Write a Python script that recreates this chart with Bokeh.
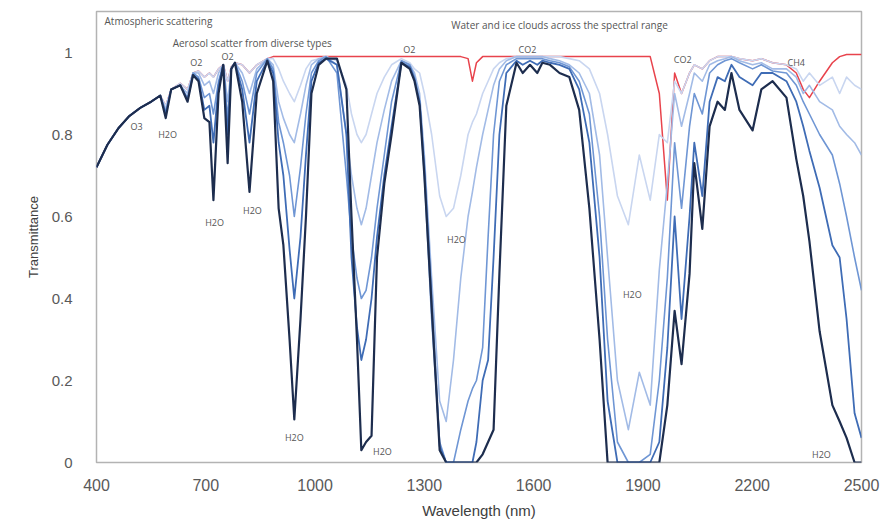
from bokeh.plotting import figure
from bokeh.models import FixedTicker, ColumnDataSource, Range1d
from bokeh.core.properties import value
from bokeh.embed import file_html
from bokeh.resources import INLINE

# ---------------- data ----------------
wavelength = [
    400, 430, 460, 490, 520, 550, 575, 590, 605, 630,
    650, 665, 680, 696, 710, 721, 735, 748, 760, 770,
    780, 800, 820, 840, 869, 885, 900, 913, 930, 943,
    960, 975, 990, 1010, 1030, 1060, 1086, 1100, 1115, 1127,
    1140, 1155, 1170, 1190, 1210, 1237, 1260, 1273, 1287, 1300,
    1320, 1342, 1360, 1380, 1400, 1420, 1432, 1443, 1460, 1475,
    1490, 1506, 1525, 1553, 1570, 1590, 1610, 1624, 1645, 1671,
    1698, 1725, 1753, 1781, 1803, 1830, 1860, 1890, 1920, 1945,
    1967, 1987, 2006, 2028, 2041, 2063, 2083, 2105, 2125, 2143,
    2165, 2201, 2225, 2256, 2294, 2321, 2340, 2357, 2385, 2420,
    2440, 2459, 2481, 2500,
]

clear_sky = [
    0.72, 0.775, 0.815, 0.845, 0.865, 0.88, 0.895, 0.87, 0.91, 0.925,
    0.91, 0.95, 0.955, 0.94, 0.95, 0.94, 0.96, 0.97, 0.93, 0.965,
    0.975, 0.97, 0.95, 0.97, 0.985, 0.99, 0.99, 0.99, 0.99, 0.99,
    0.99, 0.99, 0.99, 0.99, 0.99, 0.99, 0.99, 0.99, 0.99, 0.99,
    0.99, 0.99, 0.99, 0.99, 0.99, 0.99, 0.99, 0.99, 0.99, 0.99,
    0.99, 0.99, 0.99, 0.99, 0.99, 0.985, 0.93, 0.975, 0.99, 0.99,
    0.99, 0.99, 0.99, 0.99, 0.99, 0.99, 0.99, 0.99, 0.99, 0.99,
    0.99, 0.99, 0.99, 0.99, 0.99, 0.99, 0.99, 0.99, 0.99, 0.90,
    0.64, 0.95, 0.90, 0.95, 0.97, 0.96, 0.98, 0.99, 0.99, 0.99,
    0.985, 0.98, 0.985, 0.975, 0.97, 0.95, 0.91, 0.89, 0.93, 0.975,
    0.99, 0.995, 0.995, 0.995,
]

cloud_1 = [
    0.72, 0.775, 0.815, 0.845, 0.865, 0.88, 0.895, 0.84, 0.91, 0.92,
    0.88, 0.945, 0.93, 0.84, 0.83, 0.64, 0.90, 0.97, 0.73, 0.96,
    0.975, 0.88, 0.66, 0.90, 0.98, 0.93, 0.62, 0.53, 0.30, 0.105,
    0.35, 0.60, 0.90, 0.97, 0.985, 0.985, 0.91, 0.60, 0.30, 0.03,
    0.05, 0.065, 0.50, 0.68, 0.80, 0.975, 0.96, 0.93, 0.87, 0.70,
    0.38, 0.03, 0.0, 0.0, 0.0, 0.0, 0.0, 0.0, 0.02, 0.05,
    0.08, 0.46, 0.87, 0.975, 0.95, 0.97, 0.95, 0.975, 0.97, 0.95,
    0.94, 0.86, 0.62, 0.30, 0.0, 0.0, 0.0, 0.0, 0.0, 0.0,
    0.14, 0.37, 0.24, 0.46, 0.73, 0.57, 0.82, 0.88, 0.86, 0.95,
    0.86, 0.81, 0.91, 0.93, 0.89, 0.74, 0.65, 0.54, 0.32, 0.14,
    0.10, 0.06, 0.0, 0.0,
]

cloud_2 = [
    0.72, 0.775, 0.815, 0.845, 0.865, 0.88, 0.895, 0.85, 0.91, 0.92,
    0.885, 0.945, 0.935, 0.86, 0.87, 0.78, 0.92, 0.97, 0.80, 0.96,
    0.975, 0.91, 0.78, 0.93, 0.98, 0.95, 0.78, 0.70, 0.52, 0.40,
    0.55, 0.75, 0.93, 0.975, 0.985, 0.97, 0.80, 0.50, 0.33, 0.25,
    0.30, 0.40, 0.55, 0.70, 0.82, 0.975, 0.965, 0.935, 0.88, 0.72,
    0.40, 0.04, 0.0, 0.0, 0.0, 0.0, 0.0, 0.05, 0.20, 0.25,
    0.50, 0.80, 0.95, 0.98, 0.97, 0.98, 0.97, 0.98, 0.975, 0.97,
    0.96, 0.91, 0.78, 0.50, 0.15, 0.0, 0.0, 0.0, 0.0, 0.05,
    0.28, 0.60, 0.35, 0.60, 0.78, 0.65, 0.88, 0.94, 0.93, 0.97,
    0.94, 0.92, 0.95, 0.95, 0.93, 0.88, 0.82, 0.76, 0.67, 0.53,
    0.50, 0.35, 0.12, 0.06,
]

cloud_3 = [
    0.72, 0.775, 0.815, 0.845, 0.865, 0.88, 0.895, 0.855, 0.91, 0.92,
    0.89, 0.95, 0.94, 0.89, 0.90, 0.85, 0.93, 0.97, 0.84, 0.96,
    0.975, 0.93, 0.85, 0.95, 0.985, 0.96, 0.83, 0.78, 0.70, 0.60,
    0.72, 0.85, 0.95, 0.98, 0.99, 0.95, 0.70, 0.55, 0.45, 0.40,
    0.42, 0.50, 0.62, 0.75, 0.88, 0.98, 0.97, 0.94, 0.88, 0.70,
    0.35, 0.05, 0.0, 0.0, 0.08, 0.15, 0.18, 0.20, 0.28, 0.55,
    0.80, 0.93, 0.97, 0.985, 0.985, 0.985, 0.985, 0.985, 0.98, 0.975,
    0.965, 0.93, 0.85, 0.60, 0.30, 0.05, 0.0, 0.0, 0.02, 0.20,
    0.45, 0.78, 0.62, 0.82, 0.90, 0.85, 0.95, 0.97, 0.98, 0.985,
    0.975, 0.96, 0.97, 0.955, 0.95, 0.92, 0.88, 0.85, 0.80, 0.75,
    0.68, 0.60, 0.50, 0.42,
]

cloud_4 = [
    0.72, 0.775, 0.815, 0.845, 0.865, 0.88, 0.895, 0.86, 0.91, 0.92,
    0.90, 0.95, 0.95, 0.92, 0.93, 0.90, 0.95, 0.97, 0.88, 0.96,
    0.975, 0.95, 0.90, 0.96, 0.985, 0.97, 0.88, 0.84, 0.80, 0.78,
    0.85, 0.92, 0.97, 0.985, 0.99, 0.97, 0.80, 0.70, 0.62, 0.58,
    0.62, 0.70, 0.78, 0.86, 0.93, 0.98, 0.97, 0.95, 0.90, 0.75,
    0.45, 0.15, 0.10, 0.25, 0.45, 0.60, 0.66, 0.72, 0.80, 0.86,
    0.92, 0.96, 0.98, 0.99, 0.99, 0.99, 0.99, 0.99, 0.985, 0.98,
    0.97, 0.95, 0.90, 0.75, 0.50, 0.20, 0.08, 0.22, 0.14, 0.47,
    0.68, 0.90, 0.82, 0.90, 0.95, 0.93, 0.97, 0.98, 0.985, 0.99,
    0.98, 0.97, 0.975, 0.96, 0.96, 0.94, 0.90, 0.92, 0.88, 0.86,
    0.82, 0.80, 0.78, 0.75,
]

cloud_5 = [
    0.72, 0.775, 0.815, 0.845, 0.865, 0.88, 0.895, 0.87, 0.91, 0.925,
    0.91, 0.95, 0.955, 0.94, 0.95, 0.94, 0.96, 0.97, 0.93, 0.965,
    0.975, 0.97, 0.95, 0.97, 0.985, 0.985, 0.96, 0.93, 0.90, 0.88,
    0.92, 0.96, 0.98, 0.985, 0.99, 0.98, 0.92, 0.85, 0.80, 0.78,
    0.80, 0.85, 0.90, 0.94, 0.97, 0.985, 0.975, 0.96, 0.95, 0.90,
    0.80, 0.65, 0.60, 0.62, 0.70, 0.80, 0.83, 0.85, 0.90, 0.93,
    0.96, 0.975, 0.985, 0.99, 0.99, 0.99, 0.99, 0.99, 0.99, 0.99,
    0.985, 0.98, 0.96, 0.90, 0.80, 0.65, 0.58, 0.75, 0.64, 0.80,
    0.78, 0.93, 0.90, 0.95, 0.97, 0.96, 0.98, 0.99, 0.99, 0.99,
    0.985, 0.98, 0.985, 0.975, 0.97, 0.96, 0.93, 0.95, 0.92, 0.94,
    0.90, 0.94, 0.92, 0.91,
]

x_ticks = [400, 700, 1000, 1300, 1600, 1900, 2200, 2500]
y_ticks = [0, 0.2, 0.4, 0.6, 0.8, 1.0]

label_text = ["O3", "H2O", "O2", "O2", "H2O", "H2O", "H2O", "H2O", "O2",
              "H2O", "CO2", "H2O", "CO2", "CH4", "H2O"]
label_wl = [510, 595, 674, 760, 724, 828, 943, 1185, 1259,
            1388, 1583, 1871, 2009, 2321, 2390]
label_t = [0.82, 0.80, 0.976, 0.99, 0.585, 0.615, 0.06, 0.027, 1.007,
           0.544, 1.007, 0.41, 0.983, 0.976, 0.02]

header_text = ["Atmospheric scattering", "Aerosol scatter from diverse types",
               "Water and ice clouds across the spectral range"]
header_wl = [422, 609, 1374]
header_t = [1.076, 1.022, 1.068]

series = [
    ("clear", clear_sky, "#e8434c", 1.5),
    ("c5", cloud_5, "#c9d6f0", 1.6),
    ("c4", cloud_4, "#a2bbe6", 1.6),
    ("c3", cloud_3, "#6f96d4", 1.6),
    ("c2", cloud_2, "#3f6cb5", 1.8),
    ("c1", cloud_1, "#1d2d4e", 2.2),
]

for _, ys, _, _ in series:
    assert len(ys) == len(wavelength), (len(ys), len(wavelength))

# ---------------- figure ----------------
p = figure(width=880, height=525, x_range=Range1d(400, 2500), y_range=Range1d(0, 1.1),
           output_backend="svg", toolbar_location=None,
           min_border_left=96, min_border_right=19, min_border_top=11, min_border_bottom=63)
p.background_fill_color = "white"
p.border_fill_color = "white"
p.xgrid.visible = False
p.ygrid.visible = False
p.outline_line_color = "#b3b3b3"
p.outline_line_width = 1.5

for name, ys, color, w in series:
    p.line(wavelength, ys, line_color=color, line_width=w, line_join="round")

lab_src = ColumnDataSource(dict(x=label_wl, y=label_t, t=label_text))
p.text(x="x", y="y", text="t", source=lab_src, text_font=value("Open Sans"),
       text_font_size="9px", text_color="#555555", text_align="center",
       text_baseline="middle")
head_src = ColumnDataSource(dict(x=header_wl, y=header_t, t=header_text))
p.text(x="x", y="y", text="t", source=head_src, text_font=value("Open Sans"),
       text_font_size="10px", text_color="#555555", text_align="left",
       text_baseline="middle")

for ax in (p.xaxis[0], p.yaxis[0]):
    ax.axis_line_color = None
    ax.major_tick_line_color = None
    ax.minor_tick_line_color = None
    ax.major_label_text_font = "Liberation Sans"
    ax.major_label_text_color = "#595959"
    ax.axis_label_text_font = "Liberation Sans"
    ax.axis_label_text_font_style = "normal"
    ax.axis_label_text_color = "#404040"

p.xaxis.ticker = FixedTicker(ticks=x_ticks)
p.yaxis.ticker = FixedTicker(ticks=y_ticks)
p.yaxis.major_label_overrides = {0: "0", 1: "1"}
p.xaxis.major_label_text_font_size = "16px"
p.yaxis.major_label_text_font_size = "15px"
p.xaxis.major_label_standoff = 10
p.yaxis.major_label_standoff = 18
p.xaxis.axis_label = "Wavelength (nm)"
p.yaxis.axis_label = "Transmittance"
p.xaxis.axis_label_text_font_size = "15px"
p.yaxis.axis_label_text_font_size = "13px"
p.xaxis.axis_label_standoff = 8
p.yaxis.axis_label_standoff = 8

open("out.html", "w").write(file_html(p, INLINE))
